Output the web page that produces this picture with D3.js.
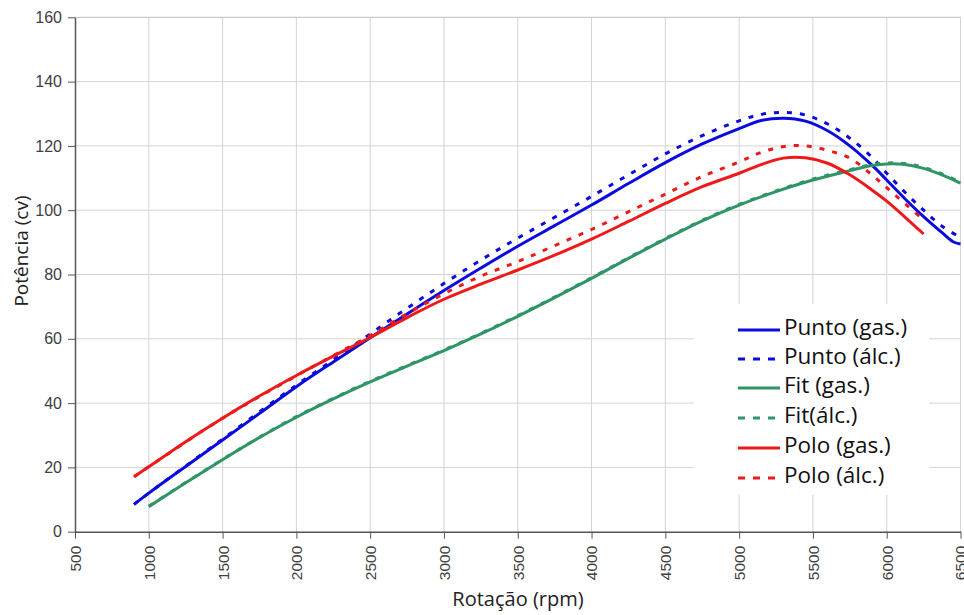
<!DOCTYPE html>
<html>
<head>
<meta charset="utf-8">
<script src="https://cdn.jsdelivr.net/npm/d3@7"></script>
<style>
  html, body { margin: 0; padding: 0; background: #fff; }
  svg { display: block; }
</style>
</head>
<body>
<svg id="chart" width="964" height="615"></svg>
<script>
// ---- data ----
const xTicks = [500,1000,1500,2000,2500,3000,3500,4000,4500,5000,5500,6000,6500];
const yTicks = [0,20,40,60,80,100,120,140,160];

const puntoGasRpm = [900,1000,1250,1500,1750,2000,2250,2500,2750,3000,3250,3500,3750,4000,4250,4500,4750,5000,5150,5300,5450,5600,5750,5900,6000,6125,6250,6375,6450,6500];
const puntoGasCv  = [8.5,12,20.3,28.5,36.8,45.1,52.8,60.3,67.7,75,82,88.8,95.2,101.6,108.3,114.8,120.6,125.4,127.9,128.6,127.7,124.7,120,114,109.4,103.5,98,93,90.2,89.5];

const puntoAlcRpm = [900,1000,1500,2000,2250,2500,2750,3000,3250,3500,3750,4000,4250,4500,4750,5000,5150,5300,5450,5600,5750,5900,6000,6125,6250,6375,6500];
const puntoAlcCv  = [8.5,12,28.8,45.6,53.5,61.5,69.5,77.2,84.5,91.3,97.8,104.3,111,117.5,123.2,127.8,129.8,130.4,129.6,126.8,122.4,116.5,111.5,105.5,100,95,91.5];

const fitGasRpm = [1000,1250,1500,1750,2000,2250,2500,2750,3000,3250,3500,3750,4000,4250,4500,4750,5000,5250,5500,5750,5900,6000,6125,6250,6375,6500];
const fitGasCv  = [7.8,15.2,22.4,29.3,35.6,41.3,46.6,51.5,56.3,61.5,67,72.8,78.8,85,91,96.7,101.6,105.8,109.4,112.3,113.9,114.4,114.2,113,111,108.4];

const fitAlcRpm = [1000,1250,1500,1750,2000,2250,2500,2750,3000,3250,3500,3750,4000,4250,4500,4750,5000,5250,5500,5750,5900,6000,6125,6250,6375,6500];
const fitAlcCv  = [7.9,15.3,22.5,29.4,35.8,41.5,46.8,51.7,56.5,61.7,67.2,73,79,85.2,91.2,96.9,101.8,106,109.7,112.6,114.2,114.7,114.5,113.3,111.3,108.7];

const poloGasRpm = [900,1000,1250,1500,1750,2000,2250,2500,2750,3000,3250,3500,3750,4000,4250,4500,4750,5000,5150,5300,5450,5600,5750,5900,6000,6125,6250];
const poloGasCv  = [17.1,20.2,28,35.3,42.2,48.6,54.6,60.4,66.6,72.3,77,81.4,86,91,96.5,102.1,107.3,111.5,114.2,116.2,116.3,114.6,111,106.3,102.8,97.8,92.6];

const poloAlcRpm = [900,1000,1500,2000,2250,2500,2750,3000,3250,3500,3750,4000,4250,4500,4750,5000,5150,5300,5450,5600,5750,5900,6000,6125,6250];
const poloAlcCv  = [17.1,20.2,35.3,48.5,54.8,61,67.8,74,79.5,84,89,94,99.5,105,110.5,115,118,119.8,120,118.6,116.2,111,107,102,97];

const seriesNames = ["Punto (gas.)","Punto (álc.)","Fit (gas.)","Fit(álc.)","Polo (gas.)","Polo (álc.)"];
const seriesColors = ["#0B0BDD","#0B0BDD","#2F9566","#2F9566","#EE1A1A","#EE1A1A"];
const seriesDashed = [false,true,false,true,false,true];
const seriesRpm = [puntoGasRpm,puntoAlcRpm,fitGasRpm,fitAlcRpm,poloGasRpm,poloAlcRpm];
const seriesCv  = [puntoGasCv,puntoAlcCv,fitGasCv,fitAlcCv,poloGasCv,poloAlcCv];

// ---- layout ----
const svg = d3.select("#chart");
const x = d3.scaleLinear().domain([500,6500]).range([75,960.5]);
const y = d3.scaleLinear().domain([0,160]).range([531.7,17.3]);

// gridlines
const grid = svg.append("g");
grid.selectAll("line.v").data(xTicks.slice(1)).enter().append("line")
  .attr("x1", d => x(d)).attr("x2", d => x(d))
  .attr("y1", y(0)).attr("y2", y(160))
  .attr("stroke", "#d4d4d4").attr("stroke-width", 1);
grid.selectAll("line.h").data(yTicks.slice(1)).enter().append("line")
  .attr("x1", x(500)).attr("x2", x(6500))
  .attr("y1", d => y(d)).attr("y2", d => y(d))
  .attr("stroke", d => d === 160 ? "#bdbdbd" : "#d4d4d4").attr("stroke-width", 1);

// axes
const xAxis = svg.append("g").attr("transform", `translate(0,${y(0)})`)
  .call(d3.axisBottom(x).tickValues(xTicks).tickSize(7).tickSizeOuter(0).tickFormat(d3.format("d")));
xAxis.select(".domain").attr("stroke", "#555").attr("stroke-width", 1.5);
xAxis.selectAll(".tick line").attr("stroke", "#555");
xAxis.selectAll(".tick text")
  .attr("transform", "rotate(-90)")
  .attr("text-anchor", "end")
  .attr("x", -14).attr("y", 0).attr("dy", "0.35em")
  .style("font-family", "'Liberation Sans', Arial, sans-serif")
  .style("font-size", "15.5px").attr("fill", "#404040");

const yAxis = svg.append("g").attr("transform", `translate(${x(500)},0)`)
  .call(d3.axisLeft(y).tickValues(yTicks).tickSize(7).tickSizeOuter(0));
yAxis.select(".domain").attr("stroke", "#555").attr("stroke-width", 1.5);
yAxis.selectAll(".tick line").attr("stroke", "#555");
yAxis.selectAll(".tick text")
  .attr("x", -13)
  .style("font-family", "'Liberation Sans', Arial, sans-serif")
  .style("font-size", "16px").attr("fill", "#404040");

// axis titles
svg.append("text").attr("x", 518).attr("y", 606).attr("text-anchor", "middle")
  .style("font-family", "'Open Sans', sans-serif").style("font-size", "20px").attr("fill", "#222")
  .text("Rotação (rpm)");
svg.append("text").attr("transform", "translate(28,251) rotate(-90)").attr("text-anchor", "middle")
  .style("font-family", "'Open Sans', sans-serif").style("font-size", "19px").attr("fill", "#222")
  .text("Potência (cv)");

// lines
const line = d3.line().x(d => x(d[0])).y(d => y(d[1])).curve(d3.curveCatmullRom.alpha(0.5));
const lines = svg.append("g");
seriesNames.forEach((name, i) => {
  const pts = seriesRpm[i].map((r, j) => [r, seriesCv[i][j]]);
  lines.append("path").datum(pts)
    .attr("d", line)
    .attr("fill", "none")
    .attr("stroke", seriesColors[i])
    .attr("stroke-width", 3)
    .attr("stroke-dasharray", seriesDashed[i] ? "5,8" : null)
    .attr("stroke-linejoin", "round");
});

// legend
const leg = svg.append("g");
leg.append("rect").attr("x", 694).attr("y", 304).attr("width", 235).attr("height", 191).attr("fill", "#fff");
const rowY = [330, 359, 388, 418, 448, 478];
seriesNames.forEach((name, i) => {
  leg.append("line")
    .attr("x1", 738).attr("x2", 780).attr("y1", rowY[i]).attr("y2", rowY[i])
    .attr("stroke", seriesColors[i]).attr("stroke-width", 3)
    .attr("stroke-dasharray", seriesDashed[i] ? "7,8" : null);
  leg.append("text").attr("x", 784).attr("y", rowY[i] - 3).attr("dy", "0.35em")
    .style("font-family", "'Open Sans', sans-serif").style("font-size", "22.5px").attr("fill", "#111")
    .text(name);
});
</script>
</body>
</html>
